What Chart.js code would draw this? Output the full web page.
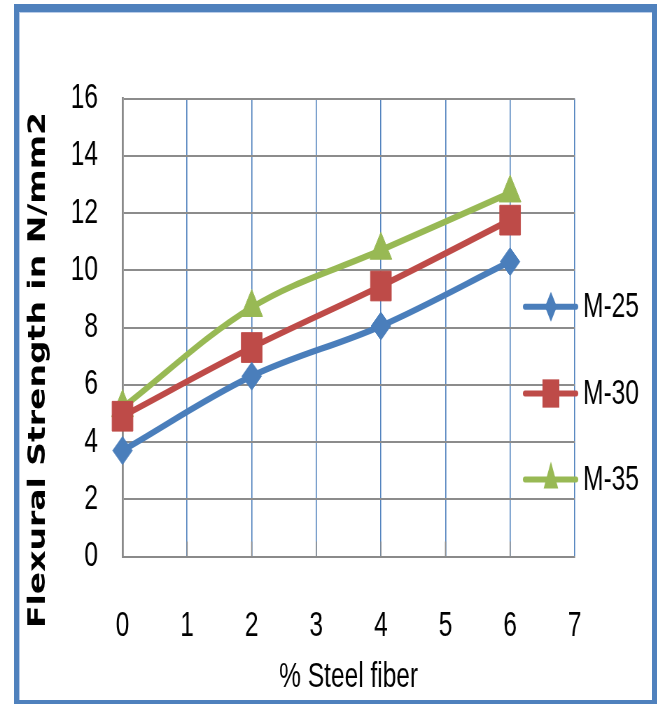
<!DOCTYPE html>
<html>
<head>
<meta charset="utf-8">
<script src="https://cdn.jsdelivr.net/npm/chart.js@4.4.1/dist/chart.umd.min.js"></script>
<style>
  html, body { margin: 0; padding: 0; background: #fff; width: 659px; height: 704px; overflow: hidden; }
  #frame {
    position: absolute; left: 14px; top: 4px; width: 633px; height: 688px;
    border-style: solid; border-color: #4f81bd; border-width: 8px 5px 4px 5px;
    box-shadow: inset 1px 1px 0 #b9cce8; pointer-events: none;
  }
  /* the chart is laid out on a wider canvas and squeezed horizontally */
  #wrap { position: absolute; left: 0; top: 0; width: 941px; height: 704px; transform: scaleX(0.7); transform-origin: 0 0; }
  #chart { width: 941px; height: 704px; display: block; }
</style>
</head>
<body>
<div id="wrap"><canvas id="chart" width="941" height="704"></canvas></div>
<div id="frame"></div>
<script>
// % steel fibre content
const fiberPct = [0, 2, 4, 6];
// flexural strength (N/mm2) per concrete grade
const m25 = [3.7, 6.3, 8.05, 10.3];
const m30 = [4.9, 7.3, 9.45, 11.75];
const m35 = [5.2, 8.7, 10.7, 12.7];
const seriesNames = ['M-25', 'M-30', 'M-35'];
const seriesColors = ['#4a7ebb', '#be4b48', '#98b954'];
// axis ticks
const xTickValues = [0, 1, 2, 3, 4, 5, 6, 7];
const yTickValues = [0, 2, 4, 6, 8, 10, 12, 14, 16];
const xTitle = '% Steel fiber';
const yTitle = 'Flexural Strength in N/mm2';

const tickFont = { family: '"Liberation Sans", Arial, sans-serif', size: 35 };

function toPoints(values) {
  return fiberPct.map((x, i) => ({ x: x, y: values[i] }));
}

// marker shapes: [pointStyle, radius in plot, legend radius, legend width]
const markers = [
  ['rectRot', 14, 15, 17],
  ['rect', 21, 20, 24],
  ['triangle', 18, 18, 24]
];

const datasets = [m25, m30, m35].map((vals, i) => ({
  label: seriesNames[i],
  data: toPoints(vals),
  borderColor: seriesColors[i],
  backgroundColor: seriesColors[i],
  pointBackgroundColor: seriesColors[i],
  pointBorderColor: seriesColors[i],
  pointBorderWidth: 1,
  pointStyle: markers[i][0],
  pointRadius: markers[i][1],
  pointHoverRadius: markers[i][1],
  borderWidth: 6.5,
  tension: 0.35,
  clip: false,
  fill: false
}));

function drawShape(ctx, style, x, y, r, w) {
  if (Chart.helpers && Chart.helpers.drawPointLegend) {
    Chart.helpers.drawPointLegend(ctx, { pointStyle: style, radius: r, borderWidth: 0, rotation: 0 }, x, y, w);
    return;
  }
  ctx.beginPath();
  if (style === 'rectRot') {
    ctx.moveTo(x - w / 2, y); ctx.lineTo(x, y - r); ctx.lineTo(x + w / 2, y); ctx.lineTo(x, y + r);
  } else if (style === 'rect') {
    const s = Math.SQRT1_2 * r;
    ctx.rect(x - w / 2, y - s, w, 2 * s);
  } else {
    ctx.moveTo(x, y - r); ctx.lineTo(x + w / 2 * 0.866, y + r / 2); ctx.lineTo(x - w / 2 * 0.866, y + r / 2);
  }
  ctx.closePath();
  ctx.fill();
}

// legend to the right of the plot: line with marker, then the series name
const sideLegend = {
  id: 'sideLegend',
  afterDraw(chart) {
    const ctx = chart.ctx;
    const rowY = [306.7, 393.5, 479.5];
    chart.data.datasets.forEach((ds, i) => {
      const y = rowY[i];
      ctx.save();
      ctx.strokeStyle = ds.borderColor;
      ctx.lineWidth = 6;
      ctx.lineCap = 'round';
      ctx.beginPath();
      ctx.moveTo(750, y);
      ctx.lineTo(823, y);
      ctx.stroke();
      ctx.fillStyle = ds.borderColor;
      drawShape(ctx, markers[i][0], 787, y, markers[i][2], markers[i][3]);
      ctx.fillStyle = '#000';
      ctx.font = '35px "Liberation Sans", Arial, sans-serif';
      ctx.textAlign = 'left';
      ctx.textBaseline = 'middle';
      ctx.fillText(ds.label, 833, y + 1);
      ctx.restore();
    });
  }
};

// rotated y-axis title
const yAxisTitle = {
  id: 'yAxisTitle',
  afterDraw(chart) {
    const ctx = chart.ctx;
    ctx.save();
    ctx.translate(55, 370);
    ctx.rotate(-Math.PI / 2);
    ctx.font = 'bold 33px "DejaVu Sans", Verdana, sans-serif';
    ctx.fillStyle = '#000';
    ctx.textAlign = 'center';
    ctx.textBaseline = 'middle';
    ctx.fillText(yTitle, 0, 0);
    ctx.restore();
  }
};

// short grey tick marks inside the plot at the foot of each vertical grid line
const innerTicks = {
  id: 'innerTicks',
  beforeDatasetsDraw(chart) {
    const ctx = chart.ctx;
    const xs = chart.scales.x;
    const bottom = chart.chartArea.bottom;
    ctx.save();
    ctx.strokeStyle = '#8c8c8c';
    ctx.lineWidth = 1.6;
    xTickValues.slice(1, -1).forEach(v => {
      const px = xs.getPixelForValue(v);
      ctx.beginPath();
      ctx.moveTo(px, bottom - 15);
      ctx.lineTo(px, bottom);
      ctx.stroke();
    });
    ctx.restore();
  }
};

new Chart(document.getElementById('chart'), {
  type: 'line',
  data: { datasets: datasets },
  options: {
    responsive: false,
    animation: false,
    devicePixelRatio: 1,
    layout: { padding: { left: 0, top: 98.5, right: 120, bottom: 5.5 } },
    plugins: { legend: { display: false }, tooltip: { enabled: false } },
    scales: {
      x: {
        type: 'linear',
        min: 0, max: 7,
        afterBuildTicks: s => { s.ticks = xTickValues.map(v => ({ value: v })); },
        afterFit: s => { s.height = 142; },
        grid: { color: '#4f81bd', lineWidth: 1.6, drawTicks: false },
        border: { color: '#8a8a8a', width: 2 },
        ticks: { font: tickFont, color: '#000', padding: 49, maxRotation: 0, autoSkip: false },
        title: { display: true, text: xTitle, font: tickFont, color: '#000', padding: { top: 0, bottom: 0 } }
      },
      y: {
        type: 'linear',
        min: 0, max: 16,
        afterBuildTicks: s => { s.ticks = yTickValues.map(v => ({ value: v })); },
        afterFit: s => { s.width = 175; },
        grid: { color: '#8c8c8c', lineWidth: 2, drawTicks: false },
        border: { color: '#8a8a8a', width: 2.8 },
        ticks: { font: tickFont, color: '#000', padding: 35, autoSkip: false }
      }
    }
  },
  plugins: [innerTicks, sideLegend, yAxisTitle]
});
</script>
</body>
</html>
